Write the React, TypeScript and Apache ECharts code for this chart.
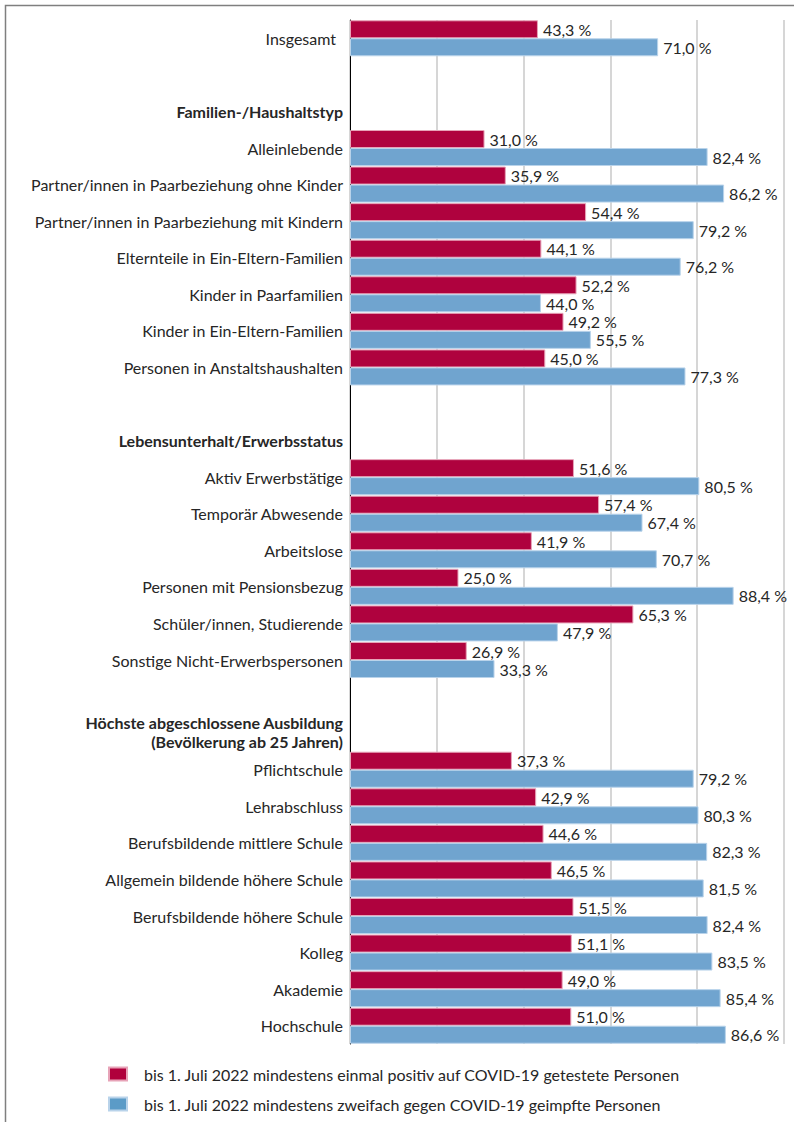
import React, { useEffect, useRef } from "react";
import * as echarts from "echarts";

const categories: string[] = [
  "Insgesamt",
  "",
  "H|Familien-/Haushaltstyp",
  "Alleinlebende",
  "Partner/innen in Paarbeziehung ohne Kinder",
  "Partner/innen in Paarbeziehung mit Kindern",
  "Elternteile in Ein-Eltern-Familien",
  "Kinder in Paarfamilien",
  "Kinder in Ein-Eltern-Familien",
  "Personen in Anstaltshaushalten",
  " ",
  "H|Lebensunterhalt/Erwerbsstatus",
  "Aktiv Erwerbstätige",
  "Temporär Abwesende",
  "Arbeitslose",
  "Personen mit Pensionsbezug",
  "Schüler/innen, Studierende",
  "Sonstige Nicht-Erwerbspersonen",
  "  ",
  "H|Höchste abgeschlossene Ausbildung\n(Bevölkerung ab 25 Jahren)",
  "Pflichtschule",
  "Lehrabschluss",
  "Berufsbildende mittlere Schule",
  "Allgemein bildende höhere Schule",
  "Berufsbildende höhere Schule",
  "Kolleg",
  "Akademie",
  "Hochschule",
];

const positiveTested: (number | null)[] = [
  43.3, null, null,
  31.0, 35.9, 54.4, 44.1, 52.2, 49.2, 45.0,
  null, null,
  51.6, 57.4, 41.9, 25.0, 65.3, 26.9,
  null, null,
  37.3, 42.9, 44.6, 46.5, 51.5, 51.1, 49.0, 51.0,
];

const vaccinated: (number | null)[] = [
  71.0, null, null,
  82.4, 86.2, 79.2, 76.2, 44.0, 55.5, 77.3,
  null, null,
  80.5, 67.4, 70.7, 88.4, 47.9, 33.3,
  null, null,
  79.2, 80.3, 82.3, 81.5, 82.4, 83.5, 85.4, 86.6,
];

const seriesNames = [
  "bis 1. Juli 2022 mindestens einmal positiv auf COVID-19 getestete Personen",
  "bis 1. Juli 2022 mindestens zweifach gegen COVID-19 geimpfte Personen",
];

const FONT = "Lato";
const FS = 16;
const RED = "#AF023E";
const BLUE = "#70A4CF";

export default function App() {
  const ref = useRef<HTMLDivElement>(null);
  useEffect(() => {
    if (!ref.current) return;
    const chart = echarts.init(ref.current, null, { renderer: "svg" });
    const fmt = (p: any) =>
      p.value == null ? "" : Number(p.value).toFixed(1).replace(".", ",") + " %";
    chart.setOption({
      animation: false,
      textStyle: { fontFamily: FONT },
      graphic: [
        {
          type: "rect",
          shape: { x: 5.5, y: 5.5, width: 900, height: 1300 },
          style: { fill: "none", stroke: "#7f7f7f", lineWidth: 1.5 },
          silent: true,
        },
      ],
      grid: { left: 350, right: 10, top: 20, height: 1024 },
      xAxis: {
        type: "value",
        min: 0,
        max: 100,
        interval: 20,
        axisLabel: { show: false },
        axisLine: { show: false },
        axisTick: { show: false },
        splitLine: { show: true, lineStyle: { color: "#d6d6d6", width: 2 } },
      },
      yAxis: {
        type: "category",
        inverse: true,
        data: categories,
        axisTick: { show: false },
        axisLine: { show: true, lineStyle: { color: "#000", width: 1 } },
        axisLabel: {
          margin: 7,
          fontFamily: FONT,
          fontSize: FS,
          color: "#262626",
          formatter: (v: string) => {
            if (v.startsWith("H|")) {
              const lines = v.slice(2).split("\n");
              if (lines.length > 1) {
                return lines.map((l, i) => (i === lines.length - 1 ? "{hl|" + l + "}" : "{h|" + l + "}")).join("\n");
              }
              return "{h|" + lines[0] + "}";
            }
            if (v === "Insgesamt") return "{i|" + v + "}";
            return v;
          },
          rich: {
            h: { fontWeight: "bold", fontSize: FS, color: "#262626", fontFamily: FONT, lineHeight: 22, align: "right" },
            hl: { fontWeight: "bold", fontSize: FS, color: "#262626", fontFamily: FONT, lineHeight: 22, align: "right", padding: [0, 0, 6, 0] },
            i: { fontSize: FS, color: "#262626", fontFamily: FONT, padding: [0, 7, 0, 0] },
          },
        },
      },
      legend: {
        orient: "vertical",
        left: 108,
        top: 1066,
        padding: 0,
        itemWidth: 18,
        itemHeight: 13,
        itemGap: 14,
        icon: "rect",
        textStyle: { fontFamily: FONT, fontSize: FS, color: "#262626", padding: [0, 0, 0, 12] },
        data: [
          { name: seriesNames[0], itemStyle: { color: "#B0003C" } },
          { name: seriesNames[1], itemStyle: { color: "#5B9BC7" } },
        ],
      },
      series: [
        {
          name: seriesNames[0],
          type: "bar",
          data: positiveTested,
          barWidth: 18,
          barGap: "0%",
          itemStyle: { color: RED, borderColor: "#e7a3b8", borderWidth: 1 },
          label: {
            show: true,
            position: "right",
            distance: 5,
            fontFamily: FONT,
            fontSize: FS,
            color: "#262626",
            formatter: fmt,
          },
        },
        {
          name: seriesNames[1],
          type: "bar",
          data: vaccinated,
          barWidth: 18,
          itemStyle: { color: BLUE, borderColor: "#b9d3ea", borderWidth: 1 },
          label: {
            show: true,
            position: "right",
            distance: 5,
            fontFamily: FONT,
            fontSize: FS,
            color: "#262626",
            formatter: fmt,
          },
        },
      ],
    });
    return () => chart.dispose();
  }, []);
  return (
    <div
      ref={ref}
      style={{ position: "absolute", left: 0, top: 0, width: 794, height: 1122 }}
    />
  );
}
